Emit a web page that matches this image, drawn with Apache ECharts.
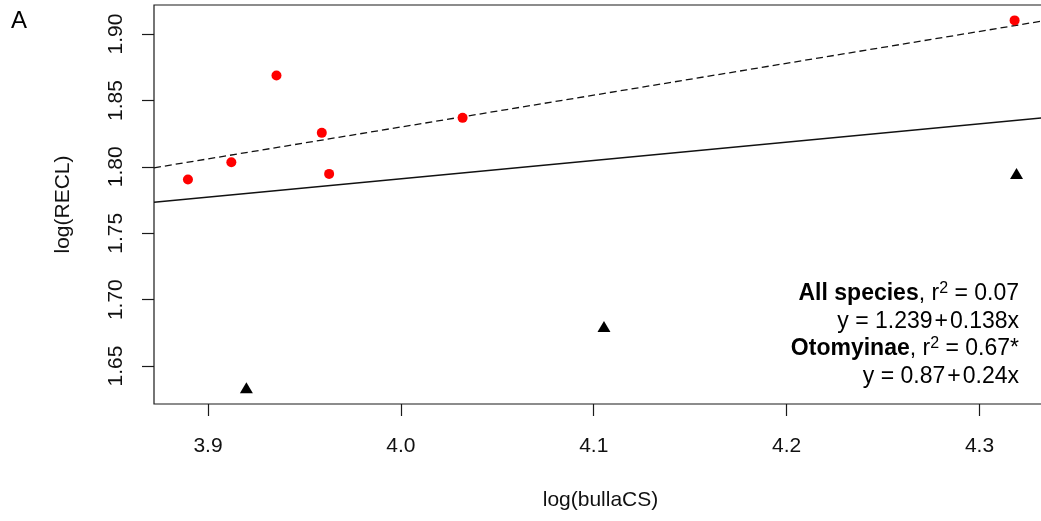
<!DOCTYPE html>
<html>
<head>
<meta charset="utf-8">
<style>
  html, body { margin: 0; padding: 0; background: #fff; }
  #chart { width: 1041px; height: 521px; }
</style>
<script src="https://cdn.jsdelivr.net/npm/echarts@6/dist/echarts.min.js"></script>
</head>
<body>
<div id="chart"></div>
<script>
// Otomyinae species (red circles)
const otomyinaeX = [3.8896, 3.9121, 3.9355, 3.9590, 3.9628, 4.0320, 4.3182];
const otomyinaeY = [1.7905, 1.8035, 1.8688, 1.8256, 1.7947, 1.8369, 1.9103];
// Remaining species (black triangles)
const otherX = [3.9199, 4.1053, 4.3192];
const otherY = [1.6336, 1.6797, 1.7950];

// Regression coefficients [intercept, slope]
const fitAll = [1.239, 0.138];
const fitOtomyinae = [0.87, 0.24];

// Axis ranges and tick labels
const xRange = [3.872, 4.335];
const yRange = [1.6214, 1.9219];
const xTicks = [3.9, 4.0, 4.1, 4.2, 4.3];
const yTicks = [1.65, 1.70, 1.75, 1.80, 1.85, 1.90];

const font = '"Liberation Sans", Arial, sans-serif';

function pairs(xs, ys) { return xs.map((x, i) => [x, ys[i]]); }
function fitLine(c) { return xRange.map(x => [x, c[0] + c[1] * x]); }

// Rich text styles for the regression summary
const rich = {
  b:  { fontFamily: font, fontWeight: 'bold', fontSize: 23, lineHeight: 26, verticalAlign: 'middle' },
  n:  { fontFamily: font, fontSize: 23, lineHeight: 26, verticalAlign: 'middle' },
  op: { fontFamily: font, fontSize: 23, lineHeight: 26, verticalAlign: 'middle', padding: [0, 2, 0, 2] },
  s:  { fontFamily: font, fontSize: 16, lineHeight: 17, verticalAlign: 'top' }
};
function summaryLine(y, text) {
  return { type: 'text', x: 1019, y: y, style: {
    text: text, textAlign: 'right', textVerticalAlign: 'middle',
    font: '23px ' + font, fill: '#000', rich: rich } };
}

const chart = echarts.init(document.getElementById('chart'), null, { renderer: 'canvas' });

// The plot box runs slightly past the right edge of the canvas.
chart.setOption({
  animation: false,
  backgroundColor: '#ffffff',
  grid: {
    left: 154, top: 5, width: 893, height: 399, outerBoundsMode: 'none',
    show: true, borderColor: '#1a1a1a', borderWidth: 1.2, backgroundColor: 'transparent'
  },
  xAxis: {
    type: 'value', min: xRange[0], max: xRange[1],
    name: 'log(bullaCS)', nameLocation: 'middle', nameGap: 86,
    nameTextStyle: { fontFamily: font, fontSize: 21, color: '#111' },
    axisLine: { show: false },
    splitLine: { show: false },
    axisTick: { show: true, inside: false, length: 12, customValues: xTicks,
                lineStyle: { color: '#1a1a1a', width: 1.2 } },
    axisLabel: { customValues: xTicks, margin: 32, fontFamily: font, fontSize: 21, color: '#111',
                 formatter: v => v.toFixed(1) }
  },
  yAxis: {
    type: 'value', min: yRange[0], max: yRange[1],
    name: 'log(RECL)', nameLocation: 'middle', nameGap: 80,
    nameTextStyle: { fontFamily: font, fontSize: 21, color: '#111' },
    axisLine: { show: false },
    splitLine: { show: false },
    axisTick: { show: true, inside: false, length: 12, customValues: yTicks,
                lineStyle: { color: '#1a1a1a', width: 1.2 } },
    axisLabel: { customValues: yTicks, rotate: 90, margin: 27, fontFamily: font, fontSize: 21, color: '#111',
                 formatter: v => v.toFixed(2) }
  },
  graphic: [
    { type: 'text', left: 11, top: 9, style: { text: 'A', font: '24px ' + font, fill: '#000' } },
    summaryLine(293.5, '{b|All species}{n|, r}{s|2}{n| = 0.07}'),
    summaryLine(321.5, '{n|y = 1.239}{op|+}{n|0.138x}'),
    summaryLine(349, '{b|Otomyinae}{n|, r}{s|2}{n| = 0.67*}'),
    summaryLine(376.5, '{n|y = 0.87}{op|+}{n|0.24x}')
  ],
  series: [
    {
      name: 'All species fit', type: 'line', data: fitLine(fitAll),
      showSymbol: false, clip: true, z: 1,
      lineStyle: { color: '#111', width: 1.3, type: 'solid' }
    },
    {
      name: 'Otomyinae fit', type: 'line', data: fitLine(fitOtomyinae),
      showSymbol: false, clip: true, z: 1,
      lineStyle: { color: '#111', width: 1.3, type: [7, 4] }
    },
    {
      name: 'Otomyinae', type: 'scatter', data: pairs(otomyinaeX, otomyinaeY),
      symbol: 'circle', symbolSize: 10, z: 3,
      itemStyle: { color: '#ff0000', opacity: 1 }
    },
    {
      name: 'Other species', type: 'scatter', data: pairs(otherX, otherY),
      symbol: 'triangle', symbolSize: [13, 11], z: 3,
      itemStyle: { color: '#000000', opacity: 1 }
    }
  ]
});
</script>
</body>
</html>
